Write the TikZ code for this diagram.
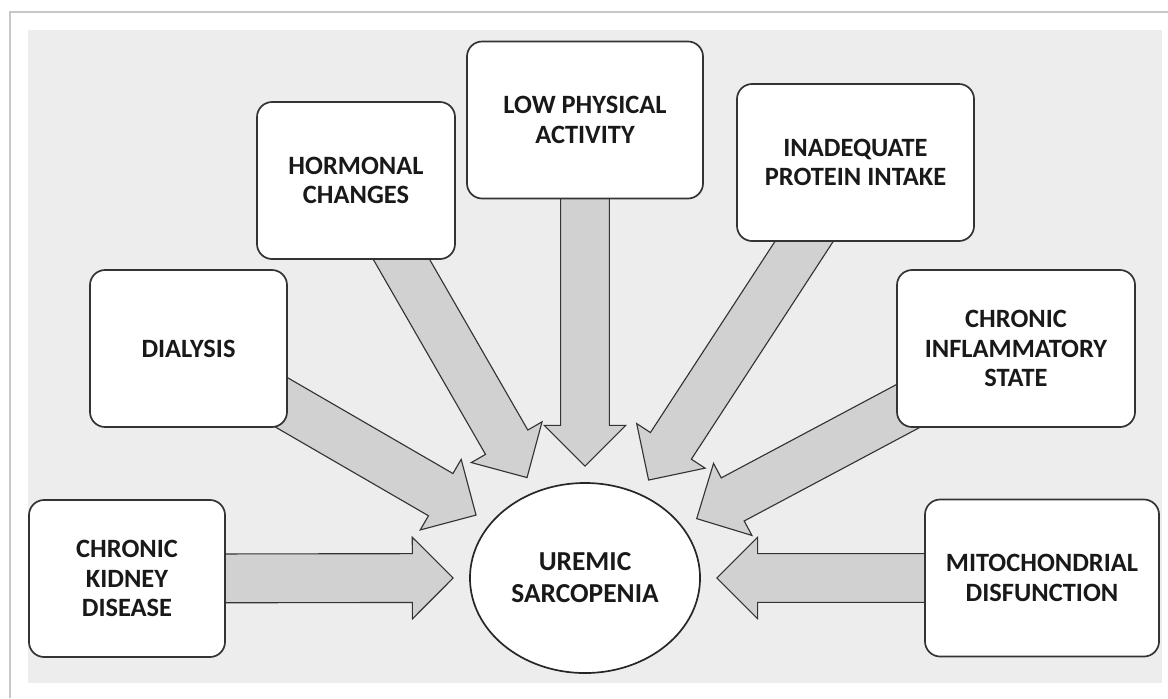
\documentclass[tikz,border=0pt]{standalone}
\usepackage{fontspec}
\setmainfont{Carlito}
\usetikzlibrary{calc,shapes.geometric}

\pgfdeclarelayer{back}
\pgfsetlayers{back,main}

\newcommand{\shaftw}{0.61cm}
\newcommand{\headw}{1.02cm}
\newcommand{\headl}{1.02cm}

\tikzset{
  factor/.style={draw=black!80, line width=1.2pt, fill=white, rounded corners=0.38cm,
    align=center, minimum height=3.925cm, inner sep=2pt,
    font=\bfseries\fontsize{18.8}{20.8}\selectfont, text=black!90},
  blockarrow/.style={draw=black!80, line width=0.8pt, fill=black!18, line join=miter,
    to path={
      ($(\tikztostart)!\shaftw!90:(\tikztotarget)$)
      -- ($(\tikztotarget)!\headl!(\tikztostart)!\shaftw!-90:(\tikztostart)$)
      -- ($(\tikztotarget)!\headl!(\tikztostart)!\headw!-90:(\tikztostart)$)
      -- (\tikztotarget)
      -- ($(\tikztotarget)!\headl!(\tikztostart)!\headw!90:(\tikztostart)$)
      -- ($(\tikztotarget)!\headl!(\tikztostart)!\shaftw!90:(\tikztostart)$)
      -- ($(\tikztostart)!\shaftw!-90:(\tikztotarget)$)
      -- cycle}}
}

\begin{document}
\begin{tikzpicture}[x=0.025cm, y=-0.025cm]
\useasboundingbox (0,0) rectangle (1168,698);

% causes
\node[factor, minimum width=4.9cm] (ckd) at (127,578.5) {CHRONIC\\KIDNEY\\DISEASE};
\node[factor, minimum width=4.925cm] (dial) at (188.5,348.5) {DIALYSIS};
\node[factor, minimum width=4.95cm] (horm) at (356,180.5) {HORMONAL\\CHANGES};
\node[factor, minimum width=5.9cm] (lpa) at (585,120) {LOW PHYSICAL\\ACTIVITY};
\node[factor, minimum width=5.925cm] (inad) at (855.5,162.5) {INADEQUATE\\PROTEIN INTAKE};
\node[factor, minimum width=5.95cm] (cis) at (1016,348.5) {CHRONIC\\INFLAMMATORY\\STATE};
\node[factor, minimum width=5.85cm] (mito) at (1042,578) {MITOCHONDRIAL\\DISFUNCTION};

% result
\node[ellipse, draw=black!85, line width=1.2pt, fill=white, minimum width=5.75cm,
  minimum height=4.75cm, inner sep=0pt, outer sep=0.42cm, align=center,
  font=\bfseries\fontsize{19.5}{22.7}\selectfont, text=black!90] (sarc) at (585,578) {UREMIC\\SARCOPENIA};

\begin{pgfonlayer}{back}
\fill[white] (0,0) rectangle (1168,698);
\draw[black!22, line width=1.5pt] (10,698) -- (10,12) -- (1168,12);
\fill[black!7] (28,30) rectangle (1162,683);

\draw[blockarrow] (ckd.center) to (sarc.180);
\draw[blockarrow] (dial.center) to (sarc.150);
\draw[blockarrow] (horm.center) to (sarc.120);
\draw[blockarrow] (lpa.center) to (sarc.90);
\draw[blockarrow] (inad.center) to (sarc.57);
\draw[blockarrow] (cis.center) to (sarc.28);
\draw[blockarrow] (mito.center) to (sarc.0);
\end{pgfonlayer}
\end{tikzpicture}
\end{document}
